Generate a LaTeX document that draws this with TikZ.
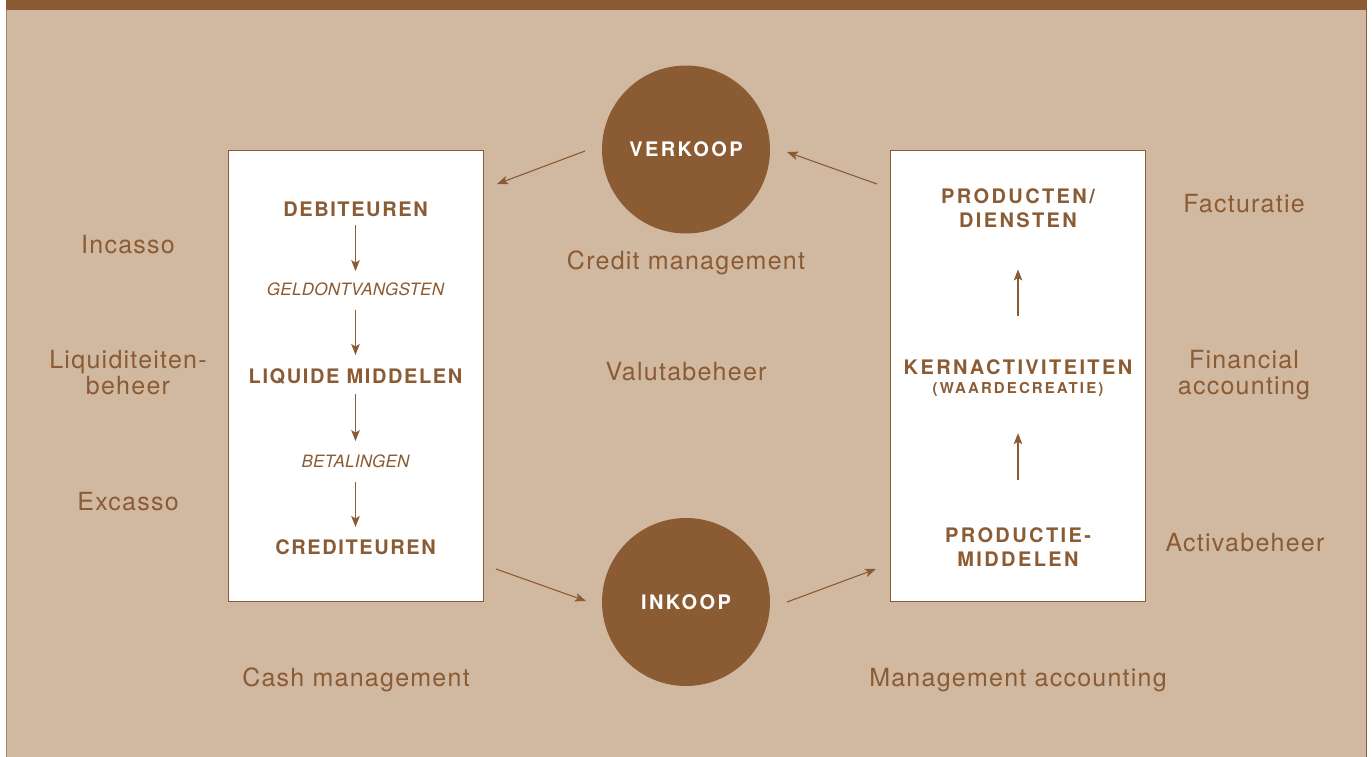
\documentclass[tikz,border=0pt]{standalone}
\usepackage{fontspec}
\setmainfont{TeX Gyre Heros}
\newfontfamily\etichettafont[LetterSpace=5]{TeX Gyre Heros}
\newfontfamily\vocesxfont[LetterSpace=8]{TeX Gyre Heros}
\newfontfamily\vocedxfont[LetterSpace=12]{TeX Gyre Heros}
\newfontfamily\notafont[LetterSpace=14]{TeX Gyre Heros}
\newfontfamily\flussofont[LetterSpace=1.5]{TeX Gyre Heros}
\usetikzlibrary{arrows.meta, positioning}

\definecolor{marrone}{HTML}{8B5B33}
\definecolor{sabbia}{HTML}{D1B8A1}
\definecolor{bordo}{HTML}{A88262}

\begin{document}
\begin{tikzpicture}[
            x=1pt, y=-1pt,
            % Stile per i riquadri bianchi
            riquadro/.style={draw=marrone, line width=1pt, fill=white, inner sep=0pt,
                minimum width=255pt, minimum height=451pt},
            % Stile per i cerchi pieni
            cerchio/.style={circle, fill=marrone, inner sep=0pt, minimum size=168pt,
                text=white, font=\vocedxfont\bfseries\fontsize{20}{24}\selectfont},
            % Stile per le voci nei riquadri
            voce/.style={anchor=base, inner sep=0pt, text=marrone, align=center,
                font=\vocesxfont\bfseries\fontsize{20}{24}\selectfont},
            vocedx/.style={voce, font=\vocedxfont\bfseries\fontsize{20}{24}\selectfont},
            % Stile per i flussi (in corsivo)
            flusso/.style={anchor=base, inner sep=0pt, text=marrone,
                font=\flussofont\itshape\fontsize{17}{20}\selectfont},
            % Stile per le etichette esterne
            etichetta/.style={inner sep=0pt, text=marrone, align=center,
                font=\etichettafont\fontsize{25}{26}\selectfont},
            % Stile per le frecce
            freccia/.style={marrone, line width=1.1pt,
                -{Stealth[length=11pt, width=8.5pt, inset=2.5pt]}}
        ]

            \useasboundingbox (0,0) rectangle (1372,756);
            \fill[white] (0,0) rectangle (1372,756);

            % --- Sfondo e cornice ---
            \fill[sabbia] (6,10) rectangle (1366,760);
            \fill[marrone] (6,0) rectangle (1367,10);
            \draw[bordo, line width=1.2pt] (6.6,10) -- (6.6,760);
            \draw[marrone, line width=1.2pt] (1366.4,0) -- (1366.4,760);

            % --- Riquadri ---
            \node[riquadro] (cassa) at (355.5,375.5) {};
            \node[riquadro] (impresa) at (1017.5,375.5) {};

            % --- Cerchi ---
            \node[cerchio] (verkoop) at (686,149.5) {VERKOOP};
            \node[cerchio] (inkoop) at (686,602) {INKOOP};

            % --- Riquadro di sinistra (ciclo del denaro) ---
            \node[voce] (debiteuren) at (355.5,216) {DEBITEUREN};
            \node[flusso] (ontvangst) at (355.5,295) {GELDONTVANGSTEN};
            \node[voce] (liquide) at (355.5,383) {LIQUIDE MIDDELEN};
            \node[flusso] (betaling) at (355.5,467) {BETALINGEN};
            \node[voce] (crediteuren) at (355.5,554) {CREDITEUREN};

            \draw[freccia, shorten <=9pt, shorten >=11pt] (debiteuren) -- (ontvangst);
            \draw[freccia, shorten <=14pt, shorten >=13pt] (ontvangst) -- (liquide);
            \draw[freccia, shorten <=10pt, shorten >=13pt] (liquide) -- (betaling);
            \draw[freccia, shorten <=14pt, shorten >=12pt] (betaling) -- (crediteuren);

            % --- Riquadro di destra (creazione di valore) ---
            % la base e' quella dell'ultima riga
            \node[vocedx] (producten) at (1018,227) {PRODUCTEN/\\DIENSTEN};
            \node[vocedx] (kern) at (1018,393)
                {KERNACTIVITEITEN\\[-5pt]{\notafont\bfseries\fontsize{15}{16}\selectfont(WAARDECREATIE)}};
            \node[vocedx] (middelen) at (1018,566) {PRODUCTIE-\\MIDDELEN};

            \draw[freccia, shorten <=47pt, shorten >=37pt] (middelen) -- (kern);
            \draw[freccia, shorten <=43pt, shorten >=42pt] (kern) -- (producten);

            % --- Frecce del ciclo esterno ---
            \coordinate (v1) at (877,184);
            \coordinate (v2) at (787,152);
            \coordinate (d1) at (585,151);
            \coordinate (d2) at (497,184);
            \coordinate (c1) at (496,569);
            \coordinate (c2) at (586,601);
            \coordinate (i1) at (787,602);
            \coordinate (i2) at (876,569);

            \draw[freccia] (v1) -- (v2);
            \draw[freccia] (d1) -- (d2);
            \draw[freccia] (c1) -- (c2);
            \draw[freccia] (i1) -- (i2);

            % --- Etichette esterne ---
            \node[etichetta] (incasso) at (128,245) {Incasso};
            \node[etichetta] (liquiditeit) at (128,373) {Liquiditeiten-\\beheer};
            \node[etichetta] (excasso) at (128,502) {Excasso};
            \node[etichetta] (credit) at (686,263) {Credit management};
            \node[etichetta] (valuta) at (686,372) {Valutabeheer};
            \node[etichetta] (cash) at (356,680) {Cash management};
            \node[etichetta] (management) at (1018,680) {Management accounting};
            \node[etichetta] (facturatie) at (1244,204) {Facturatie};
            \node[etichetta] (financial) at (1244,375) {Financial\\accounting};
            \node[etichetta] (activa) at (1245,543) {Activabeheer};

        \end{tikzpicture}
\end{document}
